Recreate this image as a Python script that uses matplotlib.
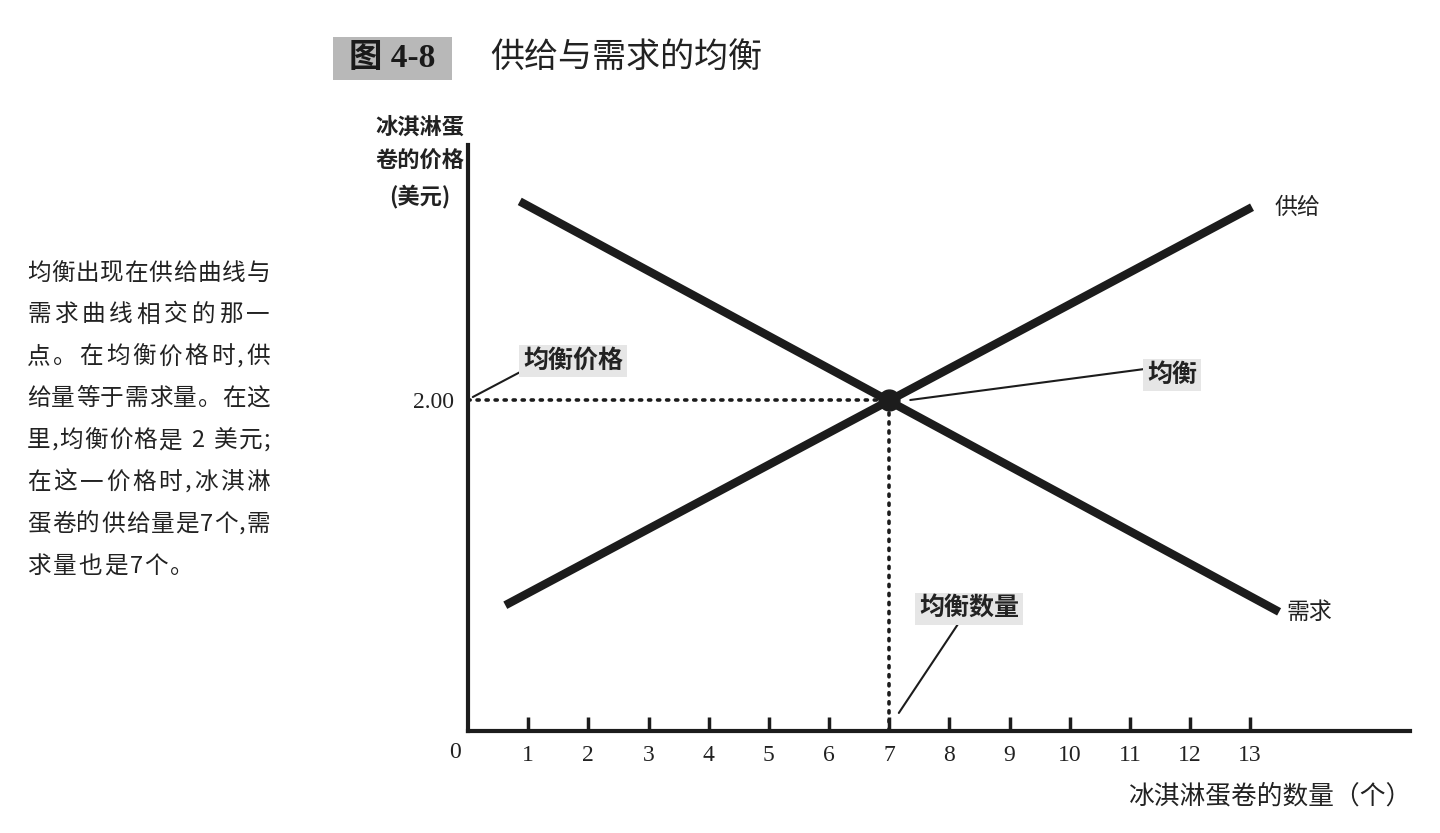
import matplotlib
matplotlib.use("Agg")
import matplotlib.pyplot as plt
from matplotlib.patches import Rectangle

plt.rcParams['font.family'] = ['Noto Sans CJK SC', 'DejaVu Sans']

# Data
supply_q = [0.62, 13.03]
supply_p = [0.76, 3.165]
demand_q = [0.86, 13.48]
demand_p = [3.20, 0.72]
eq_q = 7
eq_p = 2.0
x_ticks = list(range(1, 14))
x_ticklabels = [str(v) for v in x_ticks]
y_ticks = [2.0]
y_ticklabels = ["2.00"]

title_tag = "图 4-8"
title_text = "供给与需求的均衡"
ylabel = "冰淇淋蛋\n卷的价格\n(美元)"
xlabel = "冰淇淋蛋卷的数量（个）"
side_lines = ["均衡出现在供给曲线与", "需求曲线相交的那一", "点。在均衡价格时,供",
              "给量等于需求量。在这", "里,均衡价格是 2 美元;", "在这一价格时,冰淇淋",
              "蛋卷的供给量是7个,需", "求量也是7个。"]

W, H = 1440, 833
fig = plt.figure(figsize=(W / 100, H / 100), dpi=100)
fig.patch.set_facecolor('white')

x0, x1, y0, y1 = 468, 1410, 731, 145
ax = fig.add_axes([x0 / W, (H - y0) / H, (x1 - x0) / W, (y0 - y1) / H])
ax.set_xlim(0, (x1 - x0) / 60.17)
ax.set_ylim(0, (y0 - y1) / 165.5)
ax.patch.set_alpha(0)

col = '#1c1c1c'
for s in ['top', 'right']:
    ax.spines[s].set_visible(False)
for s in ['left', 'bottom']:
    ax.spines[s].set_linewidth(3)
    ax.spines[s].set_color(col)

ax.set_xticks(x_ticks)
ax.set_xticklabels(x_ticklabels, family=['Liberation Serif'], fontsize=17, color='#222')
ax.tick_params(axis='x', direction='in', length=10, width=2.5, color=col, pad=10)
ax.set_yticks(y_ticks)
ax.set_yticklabels(y_ticklabels, family=['Liberation Serif'], fontsize=17, color='#222')
ax.tick_params(axis='y', length=0, pad=10)

# dotted guides
ax.plot([0, eq_q], [eq_p, eq_p], linestyle=(0, (0.6, 1.9)), color=col, lw=2.6,
        dash_capstyle='round')
ax.plot([eq_q, eq_q], [0, eq_p], linestyle=(0, (0.6, 1.9)), color=col, lw=2.6,
        dash_capstyle='round')

# curves
ax.plot(supply_q, supply_p, color=col, lw=6, solid_capstyle='butt')
ax.plot(demand_q, demand_p, color=col, lw=6, solid_capstyle='butt')
ax.plot([eq_q], [eq_p], 'o', color=col, markersize=15)

ax.text(13.41, 3.166, "供给", fontsize=16.5, va='center', ha='left', color='#222')
ax.text(13.61, 0.719, "需求", fontsize=16.5, va='center', ha='left', color='#222')

box = dict(boxstyle='square,pad=0.15', fc='#e6e6e6', ec='none')
ax.annotate("均衡价格", xy=(0.08, 2.018), xytext=(1.745, 2.236), fontsize=18,
            fontweight='bold', ha='center', va='center', color='#222', bbox=box,
            arrowprops=dict(arrowstyle='-', color=col, lw=1.5, shrinkA=0, shrinkB=0,
                            relpos=(0, 0.1)))
ax.annotate("均衡", xy=(7.35, 2.0), xytext=(11.70, 2.151), fontsize=18,
            fontweight='bold', ha='center', va='center', color='#222', bbox=box,
            arrowprops=dict(arrowstyle='-', color=col, lw=1.5, shrinkA=0, shrinkB=0,
                            relpos=(-0.05, 0.75)))
ax.annotate("均衡数量", xy=(7.16, 0.109), xytext=(8.33, 0.737), fontsize=18,
            fontweight='bold', ha='center', va='center', color='#222', bbox=box,
            arrowprops=dict(arrowstyle='-', color=col, lw=1.5, shrinkA=0, shrinkB=0,
                            relpos=(0.4, -0.05)))

# "0" label
fig.text(455 / W, 1 - 752 / H, "0", family=['Liberation Serif'], fontsize=17,
         ha='center', va='center', color='#222')

# axis labels
fig.text(420 / W, 1 - 162 / H, ylabel, fontsize=16, fontweight='bold', ha='center',
         va='center', linespacing=1.6, color='#222')
fig.text(1412 / W, 1 - 797 / H, xlabel, fontsize=18.5, ha='right', va='center', color='#222')

# title
fig.patches.append(Rectangle((333 / W, 1 - 80 / H), (452 - 333) / W, (80 - 37) / H,
                             transform=fig.transFigure, fc='#b8b8b8', ec='none',
                             zorder=0))
fig.text(392 / W, 1 - 58 / H, title_tag, family=['Liberation Serif', 'Noto Sans CJK SC'],
         fontsize=24, fontweight='bold', ha='center', va='center', color='#1a1a1a',
         zorder=2)
fig.text(490 / W, 1 - 57 / H, title_text, fontsize=24.5, ha='left', va='center', color='#222')

# side paragraph, justified between two edges
renderer = fig.canvas.get_renderer()
left_px, right_px = 27, 270
fs_side = 17
for i, line in enumerate(side_lines):
    ypos = 1 - (273 + i * 41.9) / H
    widths = []
    for ch in line:
        t = fig.text(0, 0, ch if ch != ' ' else 'n', fontsize=fs_side)
        w = t.get_window_extent(renderer).width
        t.remove()
        widths.append(w if ch != ' ' else w * 0.5)
    n = len(line)
    if i < len(side_lines) - 1:
        gap = (right_px - left_px - sum(widths)) / (n - 1)
    else:
        gap = 2.0
    xpos = left_px
    for ch, w in zip(line, widths):
        if ch != ' ':
            fig.text(xpos / W, ypos, ch, fontsize=fs_side, ha='left', va='center',
                     color='#222')
        xpos += w + gap

fig.savefig("out.png", dpi=100, facecolor='white')
